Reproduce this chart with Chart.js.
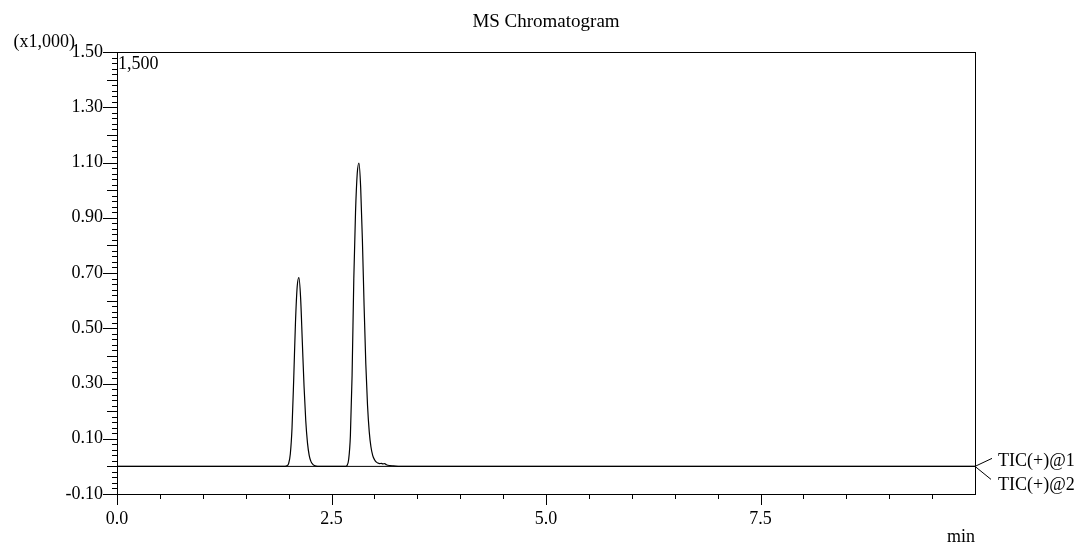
<!DOCTYPE html>
<html lang="en">
<head>
  <meta charset="UTF-8">
  <title>MS Chromatogram</title>
  <script src="https://cdn.jsdelivr.net/npm/chart.js"></script>
  <style>
    html, body { margin: 0; padding: 0; background: #fff; }
    #wrap { width: 1078px; height: 546px; }
  </style>
</head>
<body>
  <div id="wrap"><canvas id="msChart" width="1078" height="546"></canvas></div>

  <script>
    // retention time (min) and intensity (counts)
    const tic1Time = [0, 1.96, 1.98, 2.00, 2.02, 2.04, 2.06, 2.08, 2.10, 2.12, 2.14, 2.16, 2.18, 2.20, 2.22, 2.24, 2.26, 2.28, 2.30, 2.32, 2.36,
                      2.66, 2.68, 2.70, 2.72, 2.74, 2.76, 2.78, 2.80, 2.82, 2.84, 2.86, 2.88, 2.90, 2.92, 2.94, 2.96, 2.98, 3.00,
                      3.02, 3.04, 3.06, 3.08, 3.10, 3.12, 3.14, 3.18, 3.22, 3.30, 10];
    const tic1Counts = [0, 0, 2, 10, 45, 140, 320, 520, 650, 683, 610, 450, 290, 165, 85, 40, 18, 8, 3, 1, 0,
                        0, 3, 25, 110, 330, 680, 920, 1060, 1098, 1010, 820, 580, 370, 220, 125, 70, 40, 25,
                        16, 12, 10, 11, 9, 10, 6, 3, 2, 0, 0];
    const tic2Time = [0, 10];
    const tic2Counts = [0, 0];

    const seriesNames = ['TIC(+)@1', 'TIC(+)@2'];

    const yTickValues = [-100, 100, 300, 500, 700, 900, 1100, 1300, 1500];
    const yTickLabels = ['-0.10', '0.10', '0.30', '0.50', '0.70', '0.90', '1.10', '1.30', '1.50'];
    const xTickValues = [0, 2.5, 5, 7.5];
    const xTickLabels = ['0.0', '2.5', '5.0', '7.5'];

    const FONT = '"Liberation Serif", "Times New Roman", serif';

    const toPoints = (t, c) => t.map((v, i) => ({ x: v, y: c[i] }));

    // frame, tick marks of three lengths, title and side texts
    const decorations = {
      id: 'decorations',
      afterDraw(chart) {
        const ctx = chart.ctx;
        const area = chart.chartArea;
        const xs = chart.scales.x;
        const ys = chart.scales.y;
        ctx.save();
        ctx.strokeStyle = '#000';
        ctx.lineWidth = 1;
        ctx.strokeRect(Math.round(area.left) + 0.5, Math.round(area.top) + 0.5,
                       Math.round(area.right - area.left), Math.round(area.bottom - area.top));

        ctx.beginPath();
        for (let v = -100; v <= 1500; v += 20) {
          const py = Math.round(ys.getPixelForValue(v)) + 0.5;
          let len = 5;
          if ((v + 100) % 200 === 0) len = 14;
          else if (v % 200 === 0) len = 10;
          ctx.moveTo(area.left, py);
          ctx.lineTo(area.left - len, py);
        }
        for (let k = 0; k <= 19; k++) {
          const t = k * 0.5;
          const px = Math.round(xs.getPixelForValue(t)) + 0.5;
          const len = (k % 5 === 0) ? 11 : 5;
          ctx.moveTo(px, area.bottom);
          ctx.lineTo(px, area.bottom + len);
        }
        // leader lines to the trace names
        const zy = ys.getPixelForValue(0);
        ctx.moveTo(area.right, zy);
        ctx.lineTo(area.right + 17, zy - 8);
        ctx.moveTo(area.right, zy);
        ctx.lineTo(area.right + 16, zy + 13);
        ctx.stroke();

        ctx.fillStyle = '#000';
        ctx.font = '19px ' + FONT;
        ctx.textAlign = 'center';
        ctx.textBaseline = 'alphabetic';
        ctx.fillText('MS Chromatogram', (area.left + area.right) / 2, 27);

        ctx.font = '18px ' + FONT;
        ctx.textBaseline = 'middle';
        ctx.textAlign = 'left';
        ctx.fillText(seriesNames[0], area.right + 23, zy - 5);
        ctx.fillText(seriesNames[1], area.right + 23, zy + 19);
        ctx.fillText('1,500', area.left + 1, area.top + 12);
        ctx.textAlign = 'right';
        ctx.fillText('(x1,000)', 75, area.top - 10);
        ctx.fillText('min', area.right, 537);
        ctx.restore();
      }
    };

    const ctx = document.getElementById('msChart').getContext('2d');
    new Chart(ctx, {
      type: 'line',
      data: {
        datasets: [{
          label: seriesNames[0],
          data: toPoints(tic1Time, tic1Counts),
          borderColor: '#000',
          borderWidth: 1.2,
          pointRadius: 0,
          cubicInterpolationMode: 'monotone',
          fill: false
        }, {
          label: seriesNames[1],
          data: toPoints(tic2Time, tic2Counts),
          borderColor: '#000',
          borderWidth: 1,
          pointRadius: 0,
          fill: false
        }]
      },
      options: {
        responsive: false,
        animation: false,
        layout: { padding: { left: 0, right: 103, top: 52, bottom: 0 } },
        plugins: {
          legend: { display: false },
          tooltip: { enabled: false },
          title: { display: false }
        },
        scales: {
          x: {
            type: 'linear',
            min: 0,
            max: 10,
            afterFit: s => { s.height = 52; },
            afterBuildTicks: s => { s.ticks = xTickValues.map(v => ({ value: v })); },
            grid: { display: false, drawTicks: false },
            border: { display: false },
            ticks: {
              autoSkip: false,
              maxRotation: 0,
              padding: 14,
              color: '#000',
              font: { family: FONT, size: 18 },
              callback: v => {
                const i = xTickValues.indexOf(v);
                return i >= 0 ? xTickLabels[i] : '';
              }
            }
          },
          y: {
            type: 'linear',
            min: -100,
            max: 1500,
            afterFit: s => { s.width = 117; },
            afterBuildTicks: s => { s.ticks = yTickValues.map(v => ({ value: v })); },
            grid: { display: false, drawTicks: false },
            border: { display: false },
            ticks: {
              autoSkip: false,
              padding: 14,
              color: '#000',
              font: { family: FONT, size: 18 },
              callback: v => {
                const i = yTickValues.indexOf(v);
                return i >= 0 ? yTickLabels[i] : '';
              }
            }
          }
        }
      },
      plugins: [decorations]
    });
  </script>
</body>
</html>
